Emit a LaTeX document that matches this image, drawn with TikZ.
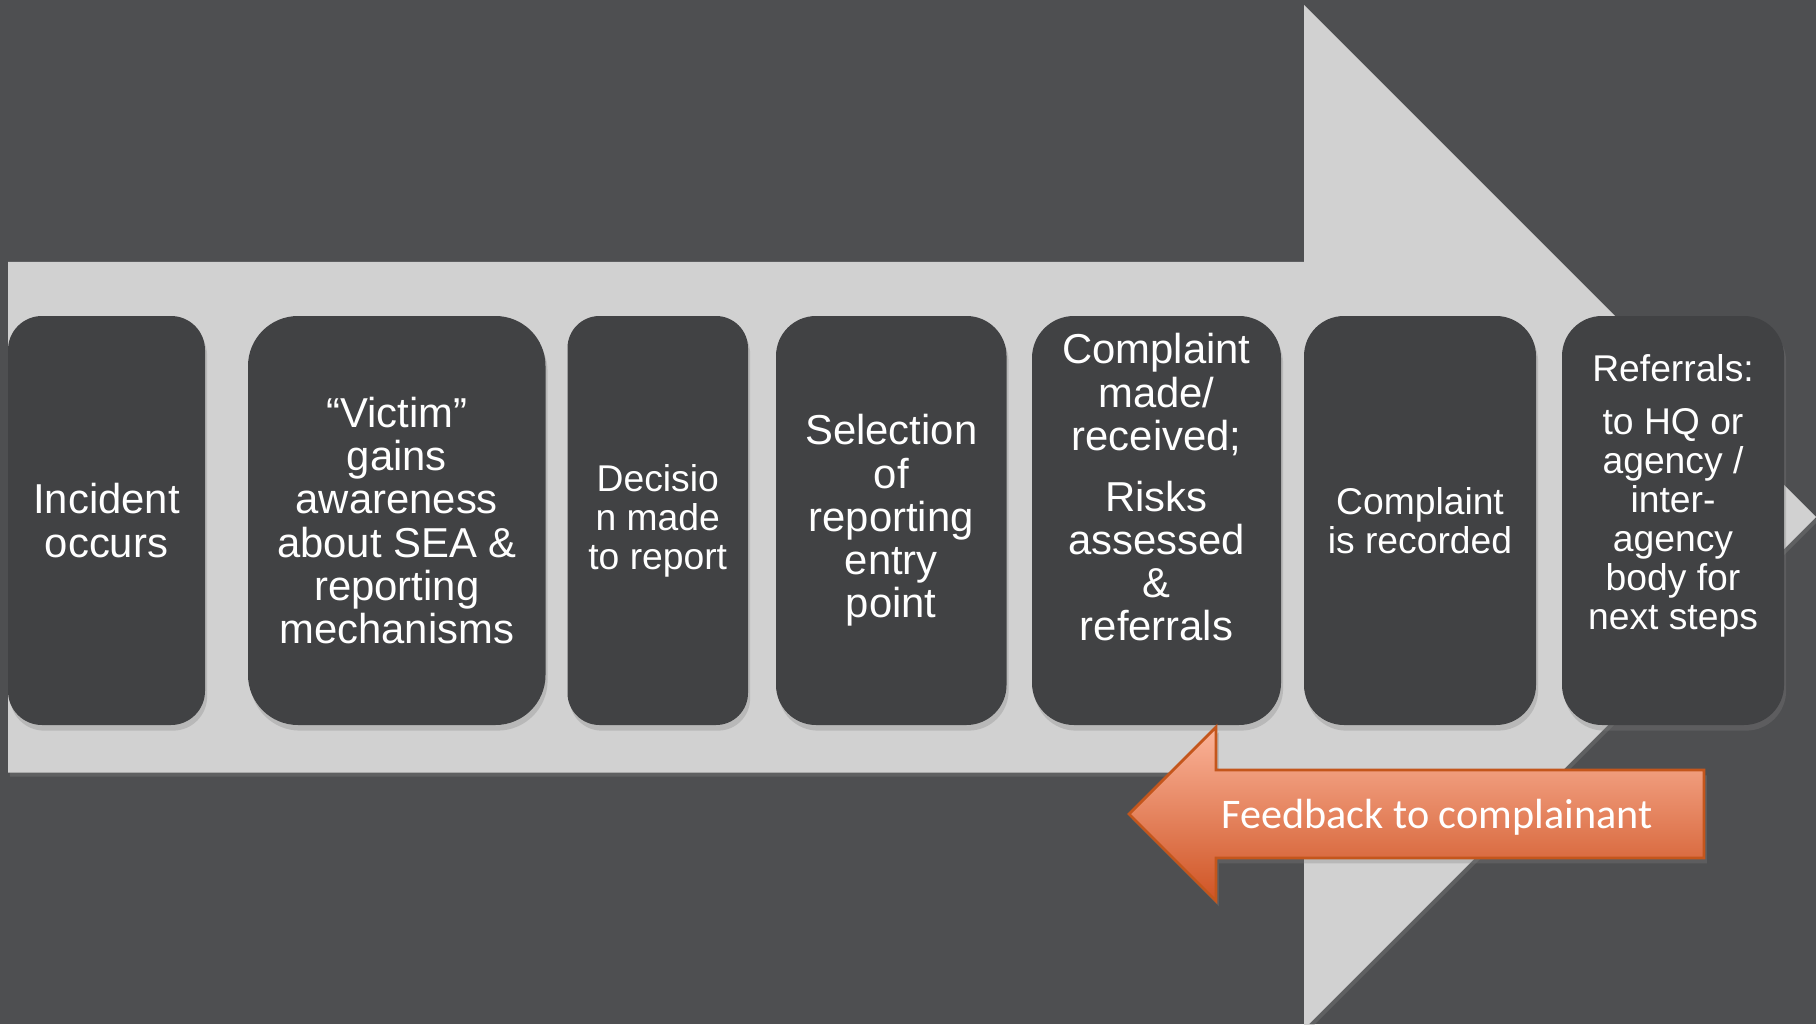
\documentclass[tikz,border=0pt]{standalone}
\usepackage{fontspec}
\setmainfont{Liberation Sans}
\newfontfamily\calibri{Carlito}
\usetikzlibrary{shadows}

\definecolor{slide}{RGB}{78,79,81}
\definecolor{trackgray}{RGB}{209,209,209}
\definecolor{stagegray}{RGB}{65,66,68}
\definecolor{fbtop}{RGB}{251,180,154}
\definecolor{fbbottom}{RGB}{207,84,36}
\definecolor{fbline}{RGB}{196,86,28}

\begin{document}
\begin{tikzpicture}
    \tikzset{stage/.style={rectangle, fill=stagegray, text=white, align=center, minimum height=4.09cm, inner sep=2pt, font=\fontsize{11.9}{12.3}\selectfont, drop shadow={shadow xshift=0.6pt, shadow yshift=-1.6pt, opacity=0.3}}}
    \tikzset{stagetext/.style={text=white, align=center, inner sep=0pt, font=\fontsize{11.9}{12.3}\selectfont}}
    \tikzset{small/.style={font=\fontsize{10.6}{11.1}\selectfont}}
    \tikzset{track/.style={fill=trackgray, drop shadow={shadow xshift=0.5pt, shadow yshift=-1.2pt, opacity=0.35}}}
    \tikzset{feedback/.style={top color=fbtop, bottom color=fbbottom, draw=fbline, line width=0.8pt, drop shadow={shadow xshift=0.8pt, shadow yshift=-1.5pt, opacity=0.3}}}

    % Slide background
    \fill [slide] (0,0) rectangle (18.16,10.24);
    \useasboundingbox (0,0) rectangle (18.16,10.24);
    \clip (0,0) rectangle (18.16,10.24);

    % Big process arrow
    \path [track] (0.08,7.62) -- (13.04,7.62) -- (13.04,10.19) -- (18.16,5.07)
        -- (13.04,-0.05) -- (13.04,2.515) -- (0.08,2.515) -- cycle;

    % Stages
    \node [stage, minimum width=1.97cm, rounded corners=0.34cm] (s_incident) at (1.065,5.035) {Incident\\occurs};
    \node [stage, minimum width=2.975cm, rounded corners=0.5cm] (s_aware) at (3.9675,5.035) {“Victim”\\gains\\awareness\\about SEA \&\\reporting\\mechanisms};
    \node [stage, small, minimum width=1.805cm, rounded corners=0.32cm] (s_decide) at (6.5775,5.035) {Decisio\\n made\\to report};
    \node [stage, minimum width=2.305cm, rounded corners=0.4cm] (s_select) at (8.9125,5.035) {Selection\\of\\reporting\\entry\\point};
    \node [stage, minimum width=2.49cm, rounded corners=0.42cm] (s_complaint) at (11.565,5.035) {};
    \node [stagetext, yshift=0.33cm] (s_complaint_txt) at (s_complaint) {Complaint\\made/\\received;\\[5pt]Risks\\assessed\\\&\\referrals};
    \node [stage, small, minimum width=2.32cm, rounded corners=0.4cm] (s_record) at (14.2,5.035) {Complaint\\is recorded};
    \node [stage, minimum width=2.22cm, rounded corners=0.4cm] (s_refer) at (16.73,5.035) {};
    \node [stagetext, small, yshift=0.25cm] (s_refer_txt) at (s_refer) {Referrals:\\[4pt]to HQ or\\agency /\\inter-\\agency\\body for\\next steps};

    % Feedback loop
    \path [feedback] (12.16,2.54) -- (17.04,2.54) -- (17.04,1.66) -- (12.16,1.66)
        -- (12.16,1.23) -- (11.29,2.10) -- (12.16,2.97) -- cycle;
    \node [text=white, font=\calibri\fontsize{12}{14}\selectfont] (fb_label) at (14.37,2.07) {Feedback to complainant};
\end{tikzpicture}
\end{document}
